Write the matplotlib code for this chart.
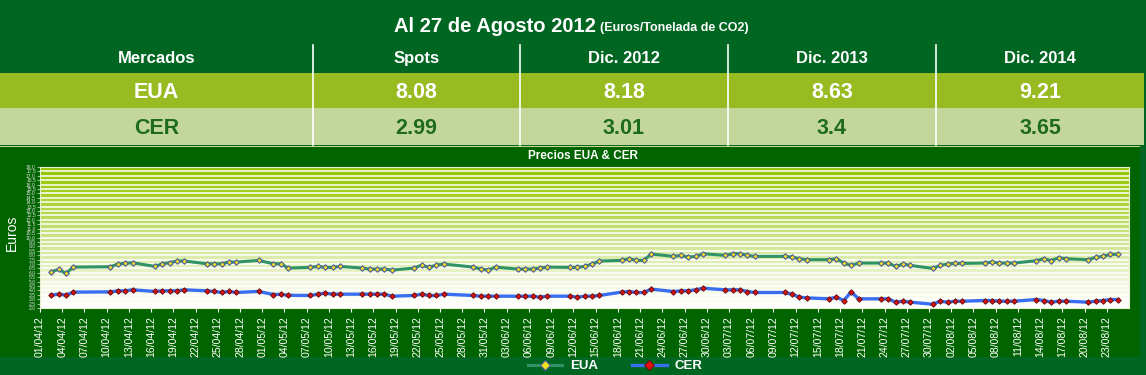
import numpy as np
import pandas as pd
import matplotlib
matplotlib.use('Agg')
import matplotlib.pyplot as plt
from matplotlib.patches import Rectangle
from matplotlib.colors import LinearSegmentedColormap

# table data
columns = ['Mercados', 'Spots', 'Dic. 2012', 'Dic. 2013', 'Dic. 2014']
markets = ['EUA', 'CER']
eua_prices = ['8.08', '8.18', '8.63', '9.21']
cer_prices = ['2.99', '3.01', '3.4', '3.65']

# daily series (dd/mm of 2012)
dates = ['02/04', '03/04', '04/04', '05/04', '10/04', '11/04', '12/04', '13/04',
         '16/04', '17/04', '18/04', '19/04', '20/04', '23/04', '24/04', '25/04',
         '26/04', '27/04', '30/04', '02/05', '03/05', '04/05',
         '07/05', '08/05', '09/05', '10/05', '11/05',
         '14/05', '15/05', '16/05', '17/05', '18/05',
         '21/05', '22/05', '23/05', '24/05', '25/05',
         '29/05', '30/05', '31/05', '01/06',
         '04/06', '05/06', '06/06', '07/06', '08/06',
         '11/06', '12/06', '13/06', '14/06', '15/06',
         '18/06', '19/06', '20/06', '21/06', '22/06',
         '25/06', '26/06', '27/06', '28/06', '29/06',
         '02/07', '03/07', '04/07', '05/07', '06/07',
         '10/07', '11/07', '12/07', '13/07',
         '16/07', '17/07', '18/07', '19/07', '20/07',
         '23/07', '24/07', '25/07', '26/07', '27/07',
         '30/07', '31/07', '01/08', '02/08', '03/08',
         '06/08', '07/08', '08/08', '09/08', '10/08',
         '13/08', '14/08', '15/08', '16/08', '17/08',
         '20/08', '21/08', '22/08', '23/08', '24/08']

eua = [6.11, 6.38, 5.92, 6.64, 6.68, 6.99, 7.06, 7.14, 6.72, 7.02, 7.14, 7.33, 7.33,
       7.02, 7.02, 7.02, 7.21, 7.21, 7.40, 7.02, 7.02, 6.53,
       6.61, 6.72, 6.61, 6.61, 6.72,
       6.53, 6.42, 6.42, 6.42, 6.30,
       6.53, 6.87, 6.61, 6.87, 6.99,
       6.64, 6.42, 6.30, 6.64,
       6.42, 6.42, 6.42, 6.53, 6.64,
       6.61, 6.61, 6.72, 6.99, 7.33,
       7.40, 7.59, 7.40, 7.40, 8.13,
       7.86, 7.97, 7.78, 7.86, 8.16,
       7.97, 8.16, 8.16, 7.97, 7.86,
       7.86, 7.78, 7.59, 7.48,
       7.48, 7.59, 7.10, 6.83, 7.10,
       7.10, 7.10, 6.72, 6.99, 6.83,
       6.49, 6.83, 6.99, 7.06, 7.06,
       7.10, 7.21, 7.10, 7.10, 7.10,
       7.37, 7.59, 7.37, 7.71, 7.59,
       7.48, 7.75, 7.86, 8.09, 8.09]

cer = [3.46, 3.57, 3.46, 3.80, 3.83, 3.95, 3.95, 4.06, 3.88, 3.95, 3.95, 3.95, 4.06,
       3.95, 3.88, 3.76, 3.88, 3.76, 3.88, 3.53, 3.55, 3.44,
       3.42, 3.57, 3.68, 3.57, 3.57,
       3.57, 3.57, 3.57, 3.57, 3.34,
       3.42, 3.57, 3.42, 3.42, 3.57,
       3.42, 3.34, 3.34, 3.34,
       3.34, 3.34, 3.34, 3.23, 3.34,
       3.34, 3.23, 3.34, 3.34, 3.42,
       3.80, 3.87, 3.76, 3.76, 4.14,
       3.87, 3.95, 3.95, 4.06, 4.25,
       4.06, 4.06, 4.06, 3.87, 3.76,
       3.76, 3.57, 3.23, 3.15,
       3.04, 3.23, 2.85, 3.83, 3.04,
       3.04, 3.04, 2.66, 2.77, 2.66,
       2.43, 2.77, 2.66, 2.77, 2.77,
       2.85, 2.85, 2.77, 2.77, 2.77,
       2.96, 2.85, 2.66, 2.77, 2.77,
       2.66, 2.77, 2.85, 2.96, 2.96]

fam = ['Liberation Sans', 'DejaVu Sans']

W, H = 1146, 375
fig = plt.figure(figsize=(W / 100, H / 100), dpi=100, facecolor='#006622')

# background / table layer, pixel coords
bg = fig.add_axes([0, 0, 1, 1])
bg.set_xlim(0, W)
bg.set_ylim(H, 0)
bg.axis('off')
bg.add_patch(Rectangle((0, 73), 1144, 35, color='#99bb22', lw=0))
bg.add_patch(Rectangle((0, 108), 1144, 37, color='#c4d79b', lw=0))
bg.add_patch(Rectangle((0, 147), 1140, 210, color='#006400', lw=0))
bg.add_patch(Rectangle((0, 146), 1140, 1.2, color='#c8d890', lw=0))

col_edges = [0, 313, 520, 728, 936, 1144]
for x in col_edges[1:-1]:
    bg.plot([x, x], [45, 145], color='white', lw=1.2)
centers = [(col_edges[i] + col_edges[i + 1]) / 2 for i in range(len(columns))]

bg.text(596, 31.5, 'Al 27 de Agosto 2012', ha='right', va='baseline', color='white',
        fontsize=14.5, fontweight='bold', family=fam)
bg.text(600, 31.5, '(Euros/Tonelada de CO2)', ha='left', va='baseline', color='white',
        fontsize=9, fontweight='bold', family=fam)

for c, name in zip(centers, columns):
    bg.text(c, 63, name, ha='center', va='baseline', color='white', fontsize=12,
            fontweight='bold', family=fam)

row_vals = [eua_prices, cer_prices]
row_base = [97.5, 134.5]
row_col = ['white', '#1e6b1e']
for m, vals, yb, tc in zip(markets, row_vals, row_base, row_col):
    for c, t in zip(centers, [m] + vals):
        bg.text(c, yb, t, ha='center', va='baseline', color=tc, fontsize=15.5,
                fontweight='bold', family=fam)

bg.text(583, 159, 'Precios EUA & CER', ha='center', va='baseline', color='white',
        fontsize=8.5, fontweight='bold', family=fam)
bg.text(12, 233, 'Euros', ha='center', va='center', rotation=90, color='white',
        fontsize=10, family=fam)

# chart
ax = fig.add_axes([40 / W, (H - 308) / H, (1129 - 40) / W, (308 - 167) / H])
ax.set_facecolor('white')
cmap = LinearSegmentedColormap.from_list('g', [(0, '#ffffff'), (0.15, '#f4f8e2'),
                                              (0.5, '#cbe388'), (0.8, '#a6d024'),
                                              (1, '#94c600')])
grad = np.linspace(0, 1, 256)[:, None]
ax.imshow(grad, extent=[0, 1, 0, 1], transform=ax.transAxes, origin='lower',
          aspect='auto', cmap=cmap, zorder=0)

x = pd.to_datetime([d + '/2012' for d in dates], format='%d/%m/%Y') + pd.Timedelta(hours=12)
l1, = ax.plot(x, eua, color='#2e9466', lw=2.2, marker='D', ms=2.8, mfc='#f2e020',
              mec='#4a5a9a', mew=0.8, zorder=3, label='EUA')
l2, = ax.plot(x, cer, color='#3a6ef0', lw=2.4, marker='D', ms=2.8, mfc='#e01010',
              mec='#6a1010', mew=0.7, zorder=3, label='CER')

ax.set_ylim(2, 18)
yt = np.arange(2, 18.01, 0.5)
ax.set_yticks(yt)
ax.set_yticklabels(['%.1f' % v for v in yt], fontsize=3.6, color='#dddddd', family=fam)
for v in yt:
    ax.axhline(v, color='white', lw=1.1, zorder=1)

ax.set_xlim(pd.Timestamp('2012-04-01'), pd.Timestamp('2012-08-26'))
xt = pd.date_range('2012-04-01', '2012-08-23', freq='3D')
ax.set_xticks(xt)
ax.set_xticklabels([d.strftime('%d/%m/%y') for d in xt], rotation=90, fontsize=7.6,
                   color='white', family=fam)
ax.tick_params(axis='x', colors='white', length=3, width=0.8, pad=3)
ax.tick_params(axis='y', colors='#dddddd', length=2, width=0.5, pad=1)
for s in ax.spines.values():
    s.set_color('#e8f0d0')
    s.set_linewidth(0.8)

fig.legend(handles=[l1, l2], loc='center', bbox_to_anchor=(615 / W, 9 / H), ncol=2,
           frameon=False, labelcolor='white', handlelength=2.6, columnspacing=2.6,
           handletextpad=0.6, markerscale=1.7, borderpad=0,
           prop={'family': fam, 'weight': 'bold', 'size': 9.5})

fig.savefig('out.png', dpi=100, facecolor=fig.get_facecolor())
